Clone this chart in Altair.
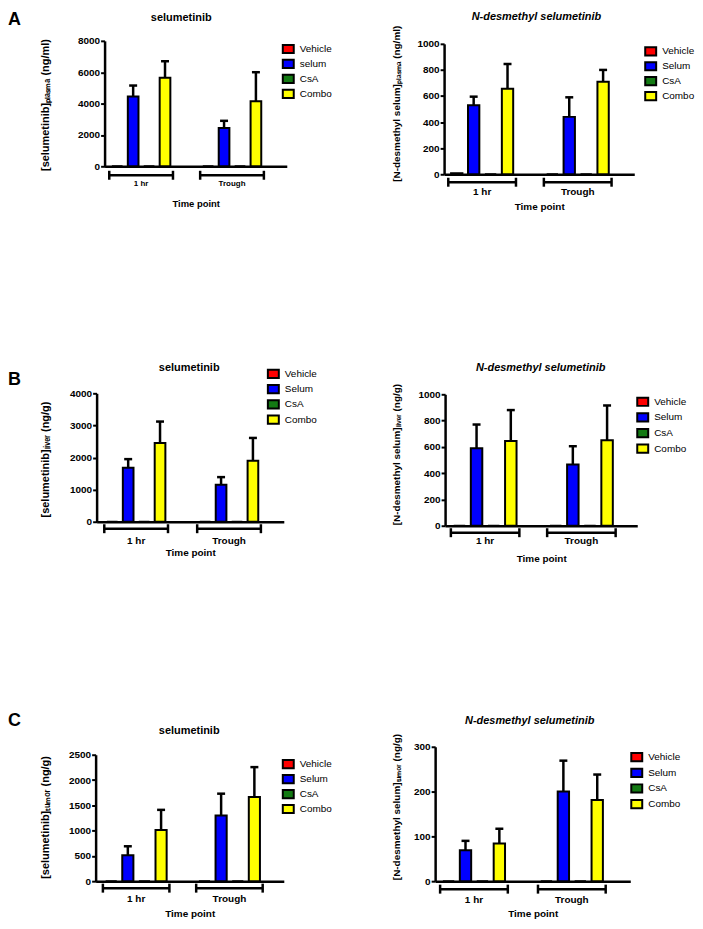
import altair as alt
import pandas as pd

FONT = "Liberation Sans"
GROUPS = ["1 hr", "Trough"]
SERIES = ["Vehicle", "Selum", "CsA", "Combo"]
SERIES_LOWER = ["Vehicle", "selum", "CsA", "Combo"]
COLORS = ["#ff0000", "#0000ff", "#137a13", "#ffff00"]

# ---- A: plasma, selumetinib (ng/ml)
A1_VEHICLE = [0, 0]
A1_SELUM = [4450, 2450]
A1_SELUM_SD = [700, 450]
A1_CSA = [0, 0]
A1_COMBO = [5650, 4150]
A1_COMBO_SD = [1050, 1850]
A1_TICKS = [0, 2000, 4000, 6000, 8000]

# ---- A: plasma, N-desmethyl selumetinib (ng/ml)
A2_VEHICLE = [8, 0]
A2_SELUM = [530, 440]
A2_SELUM_SD = [65, 150]
A2_CSA = [0, 0]
A2_COMBO = [655, 710]
A2_COMBO_SD = [190, 90]
A2_TICKS = [0, 200, 400, 600, 800, 1000]

# ---- B: liver, selumetinib (ng/g)
B1_VEHICLE = [0, 0]
B1_SELUM = [1680, 1150]
B1_SELUM_SD = [270, 240]
B1_CSA = [0, 0]
B1_COMBO = [2450, 1900]
B1_COMBO_SD = [670, 710]
B1_TICKS = [0, 1000, 2000, 3000, 4000]

# ---- B: liver, N-desmethyl selumetinib (ng/g)
B2_VEHICLE = [0, 0]
B2_SELUM = [590, 465]
B2_SELUM_SD = [180, 140]
B2_CSA = [0, 0]
B2_COMBO = [645, 650]
B2_COMBO_SD = [235, 265]
B2_TICKS = [0, 200, 400, 600, 800, 1000]

# ---- C: tumor, selumetinib (ng/g)
C1_VEHICLE = [0, 0]
C1_SELUM = [515, 1300]
C1_SELUM_SD = [175, 430]
C1_CSA = [0, 0]
C1_COMBO = [1010, 1665]
C1_COMBO_SD = [400, 590]
C1_TICKS = [0, 500, 1000, 1500, 2000, 2500]

# ---- C: tumor, N-desmethyl selumetinib (ng/g)
C2_VEHICLE = [0, 0]
C2_SELUM = [69, 200]
C2_SELUM_SD = [21, 69]
C2_CSA = [0, 0]
C2_COMBO = [84, 181]
C2_COMBO_SD = [33, 57]
C2_TICKS = [0, 100, 200, 300]

YTITLES = [
    "[selumetinib]ₚₗₐₛₘₐ (ng/ml)",
    "[N-desmethyl selum]ₚₗₐₛₘₐ (ng/ml)",
    "[selumetinib]ₗᵢᵥₑᵣ (ng/g)",
    "[N-desmethyl selum]ₗᵢᵥₑᵣ (ng/g)",
    "[selumetinib]ₜᵤₘₒᵣ (ng/g)",
    "[N-desmethyl selum]ₜᵤₘₒᵣ (ng/g)",
]
TITLES = ["selumetinib", "N-desmethyl selumetinib"] * 3
LETTERS = ["A", None, "B", None, "C", None]

RECT_SYMBOL = "M-1,-0.75L1,-0.75L1,0.75L-1,0.75Z"


def make_frame(names, vehicle, selum, selum_sd, csa, combo, combo_sd):
    vals = [vehicle, selum, csa, combo]
    sds = [[0, 0], selum_sd, [0, 0], combo_sd]
    rows = []
    for gi, g in enumerate(GROUPS):
        for si, n in enumerate(names):
            rows.append({"group": g, "series": n, "value": vals[si][gi], "sd": sds[si][gi]})
    return pd.DataFrame(rows)


def band_params(L, start, band, step):
    pi = 1 - band / step
    po = (L / step - 2 + pi) / 2
    free = L - step * (2 - pi)
    al = start / free if free > 0 else 0.5
    return pi, max(po, 0), min(max(al, 0), 1)


# layout of each panel (pixels inside its cell)
LAYOUT = [
    dict(dx=0, dy=0, w=183, h=126, gs=4.7, gb=64, gst=91.3, lx=178, ly=1.7, rp=-2.1,
         tx=77, ty=-19.7, yx=-54, yy=64, yfs=11, lfs=8, lp=19, xt=40, xfs=9.5, br=9, lety=-16),
    dict(dx=-1, dy=3, w=191, h=131, gs=4.2, gb=68, gst=96, lx=200, ly=4, rp=-2.1,
         tx=91.7, ty=-21, yx=-43, yy=62.7, yfs=10, lfs=10, lp=20, xt=35, xfs=10, br=8),
    dict(dx=-8, dy=0, w=188, h=129, gs=7.7, gb=64, gst=93.3, lx=163, ly=-26, rp=-1.7,
         tx=85, ty=-22.5, yx=-46.3, yy=66, yfs=11, lfs=10, lp=22, xt=34, xfs=10, br=7, lety=-8),
    dict(dx=0, dy=1, w=193, h=132, gs=5.8, gb=68.8, gst=96.7, lx=192, ly=2, rp=-1.3,
         tx=96, ty=-22, yx=-44, yy=61, yfs=10, lfs=10, lp=18, xt=36, xfs=10, br=7),
    dict(dx=-9, dy=10, w=189, h=127, gs=7.3, gb=66.8, gst=93.7, lx=178, ly=13, rp=-2,
         tx=85, ty=-11, yx=-45.3, yy=72.5, yfs=11, lfs=10, lp=20, xt=35, xfs=10, br=7, lety=-19),
    dict(dx=-10, dy=2, w=196, h=135, gs=5, gb=68, gst=98.3, lx=186, ly=6, rp=-1.3,
         tx=85, ty=-21, yx=-34, yy=62, yfs=10, lfs=10, lp=21, xt=35, xfs=10, br=8),
]

DATA = [
    (SERIES_LOWER, A1_VEHICLE, A1_SELUM, A1_SELUM_SD, A1_CSA, A1_COMBO, A1_COMBO_SD, A1_TICKS),
    (SERIES, A2_VEHICLE, A2_SELUM, A2_SELUM_SD, A2_CSA, A2_COMBO, A2_COMBO_SD, A2_TICKS),
    (SERIES, B1_VEHICLE, B1_SELUM, B1_SELUM_SD, B1_CSA, B1_COMBO, B1_COMBO_SD, B1_TICKS),
    (SERIES, B2_VEHICLE, B2_SELUM, B2_SELUM_SD, B2_CSA, B2_COMBO, B2_COMBO_SD, B2_TICKS),
    (SERIES, C1_VEHICLE, C1_SELUM, C1_SELUM_SD, C1_CSA, C1_COMBO, C1_COMBO_SD, C1_TICKS),
    (SERIES, C2_VEHICLE, C2_SELUM, C2_SELUM_SD, C2_CSA, C2_COMBO, C2_COMBO_SD, C2_TICKS),
]


def panel(i):
    names, veh, sel, sel_sd, csa, com, com_sd, ticks = DATA[i]
    L = LAYOUT[i]
    df = make_frame(names, veh, sel, sel_sd, csa, com, com_sd)
    pi, po, al = band_params(L["w"], L["gs"], L["gb"], L["gst"])
    dx, dy, w, h = L["dx"], L["dy"], L["w"], L["h"]
    bottom = dy + h

    xs = alt.Scale(domain=GROUPS, range=[dx, dx + w], paddingInner=pi,
                   paddingOuter=po, align=al, round=False)
    xo = alt.Scale(domain=names, paddingInner=0.33, paddingOuter=0.165)
    ys = alt.Scale(domain=[0, ticks[-1]], range=[bottom, dy], nice=False, zero=True)
    cs = alt.Scale(domain=names, range=COLORS)

    xaxis = alt.Axis(title="Time point", ticks=False, tickSize=0, domainColor="black",
                     domainWidth=2.5, labelAngle=0, labelFont=FONT, labelFontSize=L["lfs"],
                     labelFontWeight="bold", labelColor="black", labelPadding=L["lp"],
                     labelBaseline="alphabetic", titleFont=FONT, titleFontSize=L["xfs"],
                     titleFontWeight="bold", titleColor="black", titleY=L["xt"],
                     titleBaseline="alphabetic", grid=False, labelOverlap=False)
    yaxis = alt.Axis(title=YTITLES[i], values=ticks, format="d", grid=False,
                     domainColor="black", domainWidth=2.5, tickColor="black", tickWidth=2,
                     tickSize=4, labelFont=FONT, labelFontSize=10, labelFontWeight="bold",
                     labelColor="black", labelPadding=1, labelOverlap=False, labelFlush=False,
                     titleFont=FONT, titleFontSize=L["yfs"], titleFontWeight="bold",
                     titleColor="black", titleX=L["yx"], titleY=L["yy"],
                     titleBaseline="bottom", titleAngle=270, offset=-dx)
    leg = alt.Legend(orient="none", legendX=L["lx"], legendY=L["ly"], title=None,
                     symbolType=RECT_SYMBOL, symbolSize=121, symbolStrokeColor="black",
                     symbolStrokeWidth=2, symbolOpacity=1, labelFont=FONT, labelFontSize=10,
                     labelColor="black", labelOffset=5, rowPadding=L["rp"], padding=0)

    bars = alt.Chart(df).mark_bar(stroke="black", strokeWidth=2, opacity=1).encode(
        x=alt.X("group:N", scale=xs, axis=xaxis),
        xOffset=alt.XOffset("series:N", scale=xo),
        y=alt.Y("value:Q", scale=ys, axis=yaxis),
        color=alt.Color("series:N", scale=cs, legend=leg),
    )
    errbase = alt.Chart(df).transform_filter("datum.sd > 0").transform_calculate(
        upper="datum.value + datum.sd")
    err = errbase.mark_rule(color="black", strokeWidth=2.5).encode(
        x=alt.X("group:N", axis=xaxis),
        xOffset=alt.XOffset("series:N"),
        y=alt.Y("value:Q", axis=yaxis),
        y2="upper:Q",
    )
    caps = errbase.mark_tick(color="black", thickness=2.5, size=8,
                             orient="horizontal", opacity=1).encode(
        x=alt.X("group:N", axis=xaxis),
        xOffset=alt.XOffset("series:N"),
        y=alt.Y("upper:Q", axis=yaxis),
    )
    bdf = pd.DataFrame({"group": GROUPS})
    by = bottom + L["br"]
    br_line = alt.Chart(bdf).mark_bar(color="black").encode(
        x=alt.X("group:N", axis=xaxis), y=alt.value(by - 1.25), y2=alt.value(by + 1.25))
    br_l = alt.Chart(bdf).mark_rule(color="black", strokeWidth=2.5).encode(
        x=alt.X("group:N", bandPosition=0, axis=xaxis),
        y=alt.value(by - 4.5), y2=alt.value(by + 4.5))
    br_r = alt.Chart(bdf).mark_rule(color="black", strokeWidth=2.5).encode(
        x=alt.X("group:N", bandPosition=1, axis=xaxis),
        y=alt.value(by - 4.5), y2=alt.value(by + 4.5))
    italic = "N-" in TITLES[i]
    ttl = alt.Chart(pd.DataFrame({"t": [TITLES[i]]})).mark_text(
        font=FONT, fontSize=11, fontWeight="bold",
        fontStyle="italic" if italic else "normal", align="center",
        baseline="alphabetic", color="black").encode(
        text="t:N", x=alt.value(L["tx"]), y=alt.value(L["ty"]))
    layers = [bars, err, caps, br_line, br_l, br_r, ttl]
    if LETTERS[i]:
        let = alt.Chart(pd.DataFrame({"t": [LETTERS[i]]})).mark_text(
            font=FONT, fontSize=18, fontWeight="bold", align="left",
            baseline="alphabetic", color="black").encode(
            text="t:N", x=alt.value(-97), y=alt.value(L["lety"]))
        layers.append(let)
    if i == 0:
        anchor = alt.Chart(pd.DataFrame({"a": [0]})).mark_point(
            size=1, opacity=0).encode(x=alt.value(-96.5), y=alt.value(-30.5))
        layers.append(anchor)
    return alt.layer(*layers).properties(width=dx + w, height=bottom)


panels = [panel(i) for i in range(6)]
chart = alt.concat(*panels, columns=2, spacing={"row": 220, "column": 159},
                   bounds="flush", align="each").properties(padding=0)
chart = chart.resolve_scale(x="independent", y="independent", color="independent",
                            xOffset="independent").resolve_legend(color="independent")
chart = chart.resolve_axis(x="independent", y="independent")
chart = chart.configure(font=FONT).configure_view(stroke=None)
chart.save("out.html", embed_options={"renderer": "svg", "actions": False})
